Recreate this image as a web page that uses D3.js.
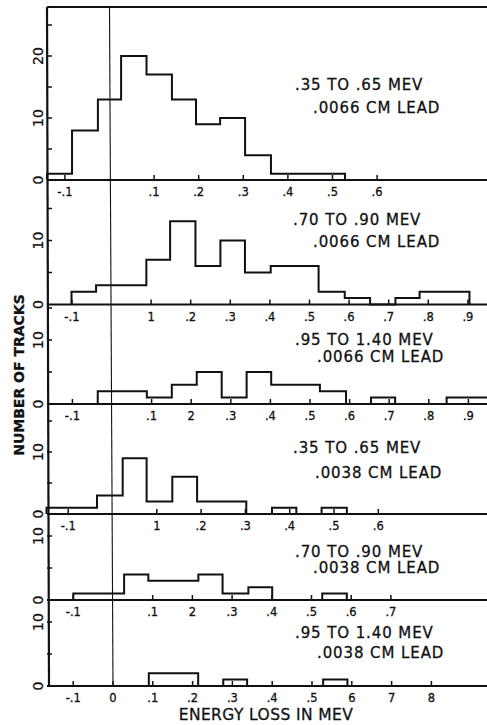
<!DOCTYPE html>
<html>
<head>
<meta charset="utf-8">
<script src="https://cdn.jsdelivr.net/npm/d3@7"></script>
<style>
  body { margin: 0; background: #fff; }
  text { font-family: "DejaVu Sans", sans-serif; fill: #111; stroke: #111; stroke-width: 0.3px; }
</style>
</head>
<body>
<div id="chart"></div>
<script>
var width = 487, height = 725, frameLeft = 47;

// bin edges (energy loss, MeV) and number of tracks in each bin, panel by panel
var edges1 = [-0.14, -0.084, -0.026, 0.026, 0.083, 0.140, 0.194, 0.248, 0.304, 0.362, 0.528];
var counts1 = [1, 8, 13, 20, 17, 13, 9, 10, 4, 1];
var edges2 = [-0.101, -0.039, 0.088, 0.148, 0.212, 0.275, 0.337, 0.402, 0.523, 0.589, 0.653, 0.717, 0.778, 0.904];
var counts2 = [2, 3, 7, 13, 6, 10, 5, 6, 2, 1, 0, 1, 2];
var edges3 = [-0.036, 0.088, 0.151, 0.214, 0.277, 0.340, 0.402, 0.525, 0.591, 0.654, 0.715, 0.845, 0.96];
var counts3 = [2, 1, 3, 5, 1, 5, 3, 2, 0, 1, 0, 1];
var edges4 = [-0.149, -0.035, 0.023, 0.077, 0.135, 0.191, 0.302, 0.360, 0.415, 0.472, 0.529];
var counts4 = [1, 3, 9, 2, 6, 2, 0, 1, 0, 1];
var edges5 = [-0.1, 0.028, 0.089, 0.215, 0.276, 0.341, 0.401, 0.527, 0.589];
var counts5 = [1, 4, 3, 4, 1, 2, 0, 1];
var edges6 = [0.090, 0.214, 0.277, 0.337, 0.528, 0.589];
var counts6 = [2, 0, 1, 0, 1];

// x ticks and their printed labels
var xticks1 = [-0.1, 0.1, 0.2, 0.3, 0.4, 0.5, 0.6];
var xlabels1 = ["-.1", ".1", ".2", ".3", ".4", ".5", ".6"];
var xticks2 = [-0.1, 0.1, 0.2, 0.3, 0.4, 0.5, 0.6, 0.7, 0.8, 0.9];
var xlabels2 = ["-.1", "1", ".2", ".3", ".4", ".5", ".6", ".7", ".8", ".9"];
var xticks3 = [-0.1, 0.1, 0.2, 0.3, 0.4, 0.5, 0.6, 0.7, 0.8, 0.9];
var xlabels3 = ["-.1", ".1", "2", ".3", ".4", ".5", ".6", ".7", ".8", ".9"];
var xticks4 = [-0.1, 0.1, 0.2, 0.3, 0.4, 0.5, 0.6];
var xlabels4 = ["-.1", "1", ".2", ".3", ".4", ".5", ".6"];
var xticks5 = [-0.1, 0.1, 0.2, 0.3, 0.4, 0.5, 0.6, 0.7];
var xlabels5 = ["-.1", ".1", "2", ".3", ".4", ".5", ".6", ".7"];
var xticks6 = [-0.1, 0, 0.1, 0.2, 0.3, 0.4, 0.5, 0.6, 0.7, 0.8];
var xlabels6 = ["-.1", "0", ".1", ".2", ".3", ".4", ".5", "6", "7", "8"];

// y ticks (marks every 5) and labelled values
var yticks1 = [5, 10, 15, 20, 25], ylabels1 = [0, 10, 20];
var yticksRest = [5, 10, 15], ylabelsRest = [0, 10];

var energies = [".35 TO .65 MEV", ".70 TO .90 MEV", ".95 TO 1.40 MEV",
                ".35 TO .65 MEV", ".70 TO .90 MEV", ".95 TO 1.40 MEV"];
var foils = [".0066 CM LEAD", ".0066 CM LEAD", ".0066 CM LEAD",
             ".0038 CM LEAD", ".0038 CM LEAD", ".0038 CM LEAD"];

var data = [
  {edges: edges1, counts: counts1, xt: xticks1, xl: xlabels1, yt: yticks1, yl: ylabels1},
  {edges: edges2, counts: counts2, xt: xticks2, xl: xlabels2, yt: yticksRest, yl: ylabelsRest},
  {edges: edges3, counts: counts3, xt: xticks3, xl: xlabels3, yt: yticksRest, yl: ylabelsRest},
  {edges: edges4, counts: counts4, xt: xticks4, xl: xlabels4, yt: yticksRest, yl: ylabelsRest},
  {edges: edges5, counts: counts5, xt: xticks5, xl: xlabels5, yt: yticksRest, yl: ylabelsRest},
  {edges: edges6, counts: counts6, xt: xticks6, xl: xlabels6, yt: yticksRest, yl: ylabelsRest}
];

// layout of each panel: top, axis line, px per track, x of zero, px per MeV, text spots
var layout = [
  {top: 7,   axis: 180,   unit: 6.2, x0: 109.5, k: 446, t1: [295, 90],  t2: [313, 113]},
  {top: 180, axis: 304.5, unit: 6.4, x0: 111.5, k: 396, t1: [293, 225], t2: [313, 247]},
  {top: 304, axis: 404,   unit: 6.4, x0: 112,   k: 396, t1: [295, 345], t2: [317, 362]},
  {top: 404, axis: 514,   unit: 6.2, x0: 112.5, k: 443, t1: [293, 453], t2: [315, 478]},
  {top: 514, axis: 600,   unit: 6.4, x0: 113,   k: 397, t1: [295, 557], t2: [313, 573]},
  {top: 600, axis: 686,   unit: 6.4, x0: 113,   k: 398, t1: [295, 638], t2: [317, 658]}
];

var svg = d3.select("#chart").append("svg")
    .attr("width", width)
    .attr("height", height);

var step = d3.line()
    .curve(d3.curveStepAfter);

var xScales = [];

data.forEach(function(d, i) {
  var L = layout[i];
  var xScale = d3.scaleLinear()
      .domain([0, 1])
      .range([L.x0, L.x0 + L.k]);
  var yScale = d3.scaleLinear()
      .domain([0, 10])
      .range([L.axis, L.axis - 10 * L.unit]);
  xScales.push(xScale);

  var g = svg.append("g");

  // histogram outline
  var pts = [[xScale(d.edges[0]), yScale(0)]];
  d.counts.forEach(function(c, j) { pts.push([xScale(d.edges[j]), yScale(c)]); });
  pts.push([xScale(d.edges[d.edges.length - 1]), yScale(0)]);
  g.append("path")
      .attr("d", step(pts))
      .attr("fill", "none")
      .attr("stroke", "#111")
      .attr("stroke-width", 2);

  // x axis line
  g.append("line")
      .attr("x1", frameLeft).attr("x2", width)
      .attr("y1", L.axis).attr("y2", L.axis)
      .attr("stroke", "#111").attr("stroke-width", 2.2);

  // x ticks pointing up, labels underneath
  g.selectAll(".xt").data(d.xt).enter().append("line")
      .attr("x1", function(v) { return xScale(v); })
      .attr("x2", function(v) { return xScale(v); })
      .attr("y1", L.axis).attr("y2", L.axis - 5)
      .attr("stroke", "#111").attr("stroke-width", 1.5);
  g.selectAll(".xl").data(d.xt).enter().append("text")
      .attr("x", function(v) { return xScale(v); })
      .attr("y", L.axis + 16)
      .attr("text-anchor", "middle")
      .style("font-size", "11.5px")
      .text(function(v, j) { return d.xl[j]; });

  // y ticks pointing in from the frame
  g.selectAll(".yt").data(d.yt.filter(function(v) { return yScale(v) > L.top + 2; })).enter().append("line")
      .attr("x1", frameLeft).attr("x2", frameLeft + 5)
      .attr("y1", function(v) { return yScale(v); })
      .attr("y2", function(v) { return yScale(v); })
      .attr("stroke", "#111").attr("stroke-width", 1.5);
  g.selectAll(".yl").data(d.yl).enter().append("text")
      .attr("transform", function(v) { return "translate(38," + yScale(v) + ") rotate(-90)"; })
      .attr("text-anchor", "middle")
      .attr("dominant-baseline", "central")
      .style("font-size", "14px")
      .text(function(v) { return v; });

  // panel captions
  g.append("text")
      .attr("x", L.t1[0]).attr("y", L.t1[1])
      .style("font-size", "15px").style("letter-spacing", "0.9px")
      .text(energies[i]);
  g.append("text")
      .attr("x", L.t2[0]).attr("y", L.t2[1])
      .style("font-size", "15px").style("letter-spacing", "0.9px")
      .text(foils[i]);
});

// top border and left frame
svg.append("line")
    .attr("x1", frameLeft).attr("x2", width)
    .attr("y1", layout[0].top).attr("y2", layout[0].top)
    .attr("stroke", "#111").attr("stroke-width", 2.2);
svg.append("line")
    .attr("x1", frameLeft).attr("x2", frameLeft + 2)
    .attr("y1", layout[0].top).attr("y2", layout[5].axis)
    .attr("stroke", "#111").attr("stroke-width", 2.2);

// thin line at zero energy loss running through all panels
svg.append("line")
    .attr("x1", xScales[0](0)).attr("x2", xScales[5](0))
    .attr("y1", layout[0].top).attr("y2", layout[5].axis)
    .attr("stroke", "#111").attr("stroke-width", 1.1);

// axis titles
svg.append("text")
    .attr("transform", "translate(24,375) rotate(-90)")
    .attr("text-anchor", "middle")
    .style("font-size", "14px").style("font-weight", "bold")
    .text("NUMBER OF TRACKS");
svg.append("text")
    .attr("x", 266).attr("y", 720)
    .attr("text-anchor", "middle")
    .style("font-size", "15.5px")
    .style("letter-spacing", "0.4px")
    .text("ENERGY LOSS IN MEV");
</script>
</body>
</html>
